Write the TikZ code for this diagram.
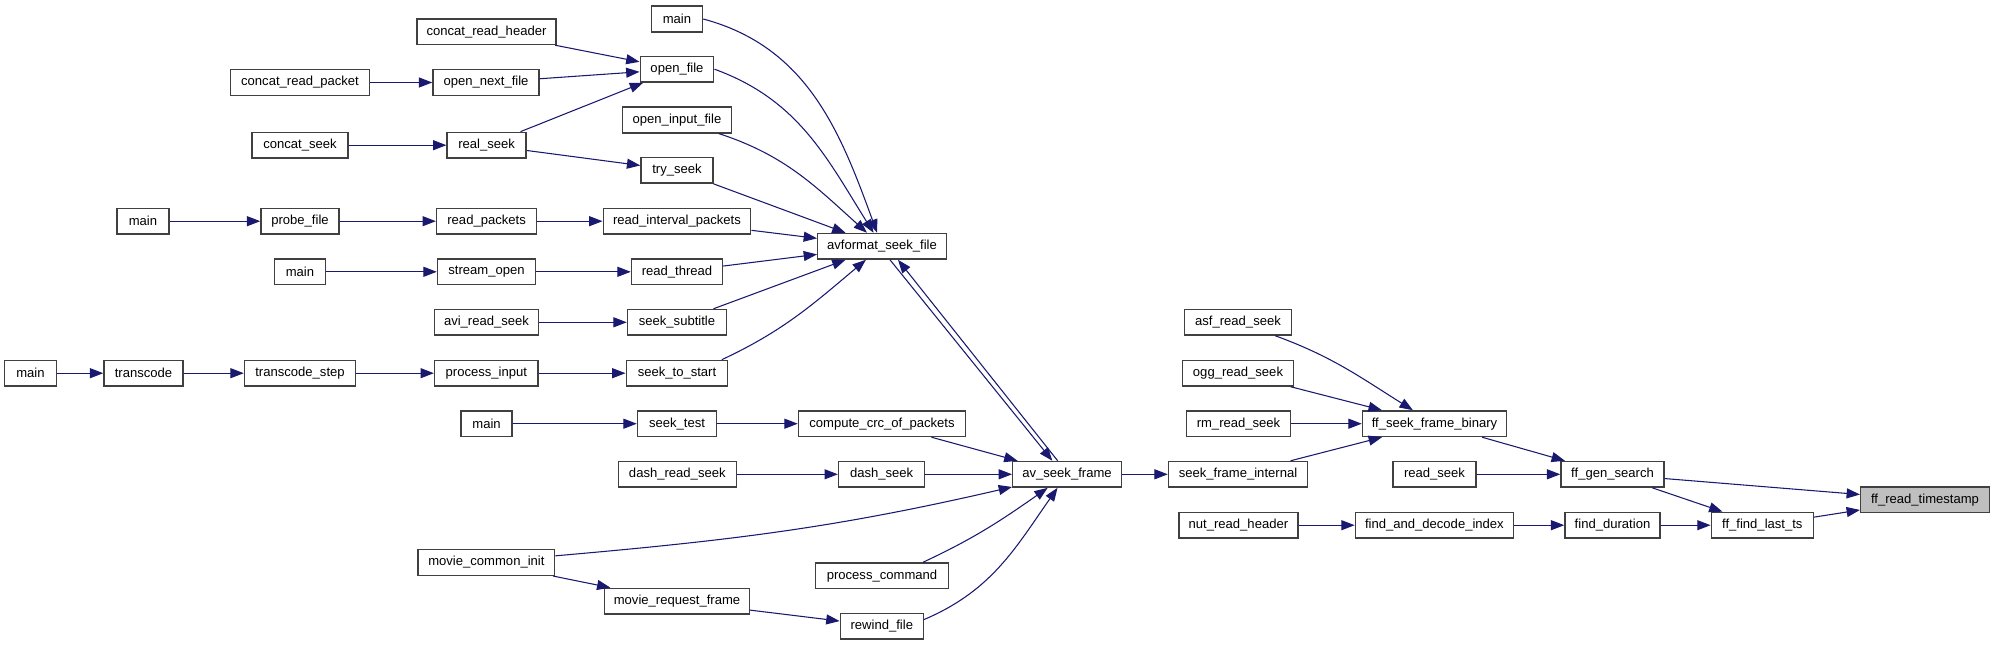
\documentclass[tikz,border=0pt]{standalone}
\usepackage{fontspec}
\setmainfont{Liberation Sans}
\usetikzlibrary{arrows.meta}
\definecolor{callblue}{HTML}{191970}
\definecolor{boxgrey}{HTML}{404040}
\definecolor{hlgrey}{HTML}{BFBFBF}
\tikzset{
  fn/.style={draw=boxgrey, line width=1.1pt, fill=white, inner sep=0pt,
    minimum height=19.2pt, font=\fontsize{9.8}{11}\selectfont},
  call/.style={draw=callblue, line width=0.8pt,
    -{Triangle[length=10pt,width=7.5pt]}, callblue}
}
\begin{document}
\begin{tikzpicture}[x=0.75pt,y=0.75pt]
        \useasboundingbox (0,0) rectangle (1995,-645);
		%#####################################################
		\foreach \nm/\x/\y/\w/\txt in {
		mainA/677/19/51/main, crheader/486.5/31.7/139/concat\_read\_header,
		openfile/677/69.2/73.5/open\_file, crpacket/300/82.5/139/concat\_read\_packet,
		opennext/486/82.5/106/open\_next\_file, openinput/677/120/108.5/open\_input\_file,
		cseek/300/145.2/96/concat\_seek, realseek/486.6/145.2/79/real\_seek,
		tryseek/677/170.3/72/try\_seek, mainB/143/221.2/52/main,
		probefile/300/221.2/78/probe\_file, readpackets/486.6/221.2/100/read\_packets,
		readinterval/677/221.2/147.5/read\_interval\_packets, avsf/882/246.3/128.5/avformat\_seek\_file,
		mainC/300/271.8/51/main, streamopen/486.5/271.8/98/stream\_open,
		readthread/677/271.8/91/read\_thread, avireadseek/486.5/322.3/104/avi\_read\_seek,
		seeksub/677/322.3/99/seek\_subtitle, mainD/30.5/373.2/52/main,
		transcode/143.5/373.2/79/transcode, tstep/300/373.2/111/transcode\_step,
		procinput/486.4/373.2/103.6/process\_input, seekstart/677/373.2/101.5/seek\_to\_start,
		mainE/486.6/423.7/51/main, seektest/677/423.7/79/seek\_test,
		crc/882/423.7/167/compute\_crc\_of\_packets, dashread/677.3/474.3/118/dash\_read\_seek,
		dashseek/881.6/474.3/86/dash\_seek, avsframe/1067/474.3/108.5/av\_seek\_frame,
		mcinit/486.4/562.5/136.4/movie\_common\_init, proccmd/882/575.8/132.5/process\_command,
		mreqframe/677/601.2/144.6/movie\_request\_frame, rewind/881.8/626.2/83/rewind\_file,
		asfread/1238/322.2/107/asf\_read\_seek, oggread/1238/373.2/111/ogg\_read\_seek,
		rmread/1238.5/423.7/104/rm\_read\_seek, seekinternal/1238/474.3/139/seek\_frame\_internal,
		nutread/1238.4/525.2/119/nut\_read\_header, ffsfb/1434.5/423.7/144/ff\_seek\_frame\_binary,
		readseek/1434.5/474.3/83/read\_seek, findindex/1434.4/525.2/158/find\_and\_decode\_index,
		ffgen/1612.5/474.3/103/ff\_gen\_search, findduration/1612.5/525.2/95/find\_duration,
		ffflt/1762.3/525.2/102/ff\_find\_last\_ts}{
		\pgfmathsetmacro\bw{\w*0.75}
		\node[fn, minimum width=\bw pt] (\nm) at (\x,-\y) {\txt};
		}
		\node[fn, fill=hlgrey, minimum width=96.5pt] (ffrt) at (1925,-499.8) {ff\_read\_timestamp};
		%#####################################################
		\foreach \a/\b in {crpacket/opennext, crheader/openfile, opennext/openfile,
		realseek/openfile, cseek/realseek, realseek/tryseek, tryseek/avsf,
		readinterval/avsf, readthread/avsf, seeksub/avsf, mainB/probefile,
		probefile/readpackets, readpackets/readinterval, mainC/streamopen,
		streamopen/readthread, avireadseek/seeksub, mainD/transcode, transcode/tstep,
		tstep/procinput, procinput/seekstart, mainE/seektest, seektest/crc,
		crc/avsframe, dashread/dashseek, dashseek/avsframe, mcinit/mreqframe,
		mreqframe/rewind, avsframe/seekinternal, oggread/ffsfb, rmread/ffsfb,
		seekinternal/ffsfb, ffsfb/ffgen, readseek/ffgen, ffgen/ffrt, ffgen/ffflt,
		nutread/findindex, findindex/findduration, findduration/ffflt, ffflt/ffrt}{
		\draw[call] (\a) -- (\b);
		}
		%#####################################################
		\draw[call] (mainA.east) to[out=-15,in=110] (avsf);
		\draw[call] (openfile.east) to[out=-20,in=122] (avsf);
		\draw[call] (openinput) to[out=-18,in=138] (avsf);
		\draw[call] ([xshift=-5pt]seekstart.north east) to[out=25,in=-140] (avsf);
		\draw[call] ([xshift=6pt]avsf.south) -- ([xshift=-11pt]avsframe.north);
		\draw[call] ([xshift=-7pt]avsframe.north) -- ([xshift=12pt]avsf.south);
		\draw[call] ([yshift=5pt]mcinit.east) to[out=5,in=-167] (avsframe);
		\draw[call] ([xshift=-19.5pt]proccmd.north east) to[out=25,in=-145] (avsframe);
		\draw[call] ([yshift=5pt]rewind.east) to[out=23,in=-125] (avsframe);
		\draw[call] (asfread) to[out=-20,in=148] (ffsfb);
\end{tikzpicture}
\end{document}
